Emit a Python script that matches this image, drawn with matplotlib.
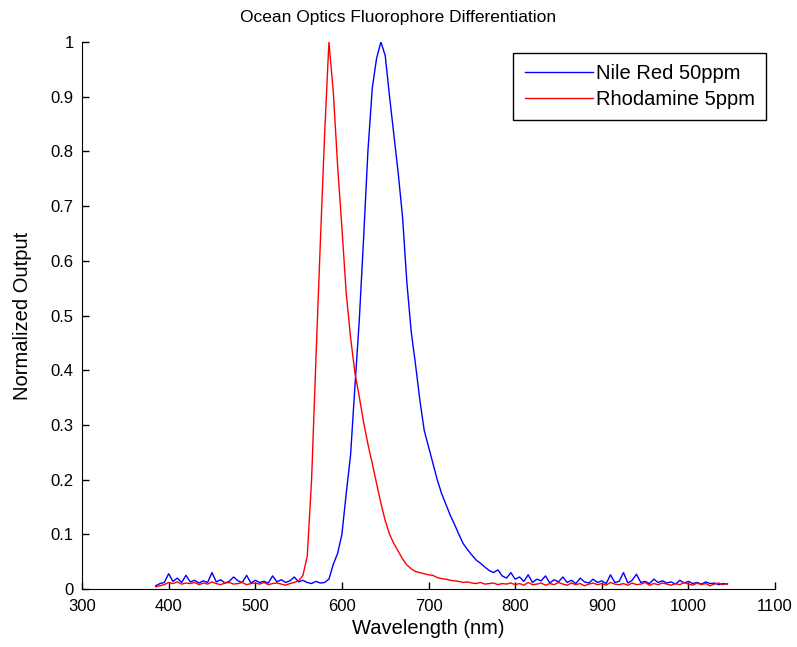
import numpy as np
import matplotlib
matplotlib.use('Agg')
import matplotlib.pyplot as plt
from matplotlib.ticker import FuncFormatter

# Wavelength grid of the sampled spectra (nm)
wavelength = np.arange(385, 1050, 5)

# Nile Red 50ppm, normalized output
nile_red = [
    0.006, 0.010, 0.012, 0.028, 0.014, 0.020, 0.012, 0.025, 0.013, 0.016,  # 385-430
    0.011, 0.015, 0.012, 0.030, 0.013, 0.017, 0.011, 0.014, 0.022, 0.015,  # 435-480
    0.012, 0.025, 0.011, 0.016, 0.012, 0.014, 0.011, 0.024, 0.013, 0.017,  # 485-530
    0.012, 0.015, 0.022, 0.013, 0.016, 0.012, 0.010, 0.014, 0.011, 0.012,  # 535-580
    0.018, 0.045, 0.065, 0.100, 0.175, 0.245, 0.370, 0.490, 0.640, 0.800,  # 585-630
    0.915, 0.970, 1.000, 0.975, 0.900, 0.830, 0.760, 0.680, 0.560, 0.470,  # 635-680
    0.410, 0.345, 0.290, 0.260, 0.230, 0.200, 0.175, 0.155, 0.135, 0.118,  # 685-730
    0.100, 0.083, 0.072, 0.062, 0.053, 0.047, 0.040, 0.034, 0.030, 0.035,  # 735-780
    0.024, 0.020, 0.030, 0.018, 0.022, 0.014, 0.026, 0.012, 0.018, 0.015,  # 785-830
    0.024, 0.011, 0.017, 0.013, 0.022, 0.012, 0.016, 0.010, 0.020, 0.013,  # 835-880
    0.011, 0.018, 0.012, 0.015, 0.010, 0.026, 0.012, 0.014, 0.030, 0.011,  # 885-930
    0.016, 0.027, 0.012, 0.014, 0.010, 0.018, 0.012, 0.015, 0.011, 0.013,  # 935-980
    0.009, 0.016, 0.011, 0.014, 0.010, 0.012, 0.009, 0.013, 0.010, 0.011,  # 985-1030
    0.008, 0.010, 0.009,                                                   # 1035-1045
]

# Rhodamine 5ppm, normalized output
rhodamine = [
    0.004, 0.006, 0.008, 0.012, 0.010, 0.013, 0.009, 0.011, 0.010, 0.012,  # 385-430
    0.008, 0.011, 0.009, 0.013, 0.010, 0.008, 0.011, 0.012, 0.009, 0.010,  # 435-480
    0.012, 0.008, 0.010, 0.011, 0.009, 0.012, 0.008, 0.010, 0.011, 0.009,  # 485-530
    0.007, 0.010, 0.012, 0.015, 0.025, 0.060, 0.200, 0.420, 0.630, 0.830,  # 535-580
    1.000, 0.910, 0.775, 0.660, 0.540, 0.460, 0.395, 0.352, 0.305, 0.265,  # 585-630
    0.230, 0.193, 0.157, 0.125, 0.100, 0.083, 0.069, 0.055, 0.044, 0.037,  # 635-680
    0.032, 0.030, 0.028, 0.026, 0.025, 0.021, 0.019, 0.018, 0.016, 0.015,  # 685-730
    0.014, 0.012, 0.013, 0.011, 0.010, 0.012, 0.009, 0.010, 0.011, 0.008,  # 735-780
    0.010, 0.009, 0.011, 0.008, 0.010, 0.007, 0.012, 0.008, 0.009, 0.011,  # 785-830
    0.007, 0.010, 0.008, 0.012, 0.009, 0.007, 0.011, 0.008, 0.010, 0.006,  # 835-880
    0.009, 0.011, 0.008, 0.010, 0.007, 0.012, 0.009, 0.008, 0.010, 0.007,  # 885-930
    0.011, 0.008, 0.009, 0.012, 0.007, 0.010, 0.008, 0.011, 0.009, 0.007,  # 935-980
    0.010, 0.008, 0.012, 0.009, 0.007, 0.011, 0.008, 0.010, 0.006, 0.009,  # 985-1030
    0.011, 0.008, 0.010,                                                   # 1035-1045
]

x_ticks = [300, 400, 500, 600, 700, 800, 900, 1000, 1100]
y_ticks = [0, 0.1, 0.2, 0.3, 0.4, 0.5, 0.6, 0.7, 0.8, 0.9, 1]

plt.rcParams['font.family'] = ['Liberation Sans', 'DejaVu Sans']
plt.rcParams['font.size'] = 12

fig = plt.figure(figsize=(7.97, 6.47), dpi=100)
ax = fig.add_axes([0.1029, 0.0896, 0.8696, 0.8455])

ax.plot(wavelength, nile_red, color='#0000ff', lw=1.0, label='Nile Red 50ppm')
ax.plot(wavelength, rhodamine, color='#ff0000', lw=1.0, label='Rhodamine 5ppm')

ax.set_xlim(300, 1100)
ax.set_ylim(0, 1)
ax.set_xticks(x_ticks)
ax.set_yticks(y_ticks)
ax.yaxis.set_major_formatter(FuncFormatter(lambda v, p: '%g' % v))
ax.tick_params(direction='in', length=5, width=1)
ax.tick_params(axis='x', pad=7)
ax.tick_params(axis='y', pad=6)
ax.spines['top'].set_visible(False)
ax.spines['right'].set_visible(False)

ax.set_xlabel('Wavelength (nm)', fontsize=14.5, labelpad=4)
ax.set_ylabel('Normalized Output', fontsize=14.5, labelpad=13)
# the title sits centred on the figure, not on the axes
fig.text(0.5, 0.973, 'Ocean Optics Fluorophore Differentiation', fontsize=12.5,
         ha='center', va='center')

leg = ax.legend(loc='upper right', bbox_to_anchor=(0.987, 0.980), borderaxespad=0,
                fancybox=False, edgecolor='black', framealpha=1, borderpad=0.55,
                handlelength=3.4, labelspacing=0.35, handletextpad=0.15,
                fontsize=14.5)
leg.get_frame().set_linewidth(1.0)

fig.savefig('out.png', dpi=100)
